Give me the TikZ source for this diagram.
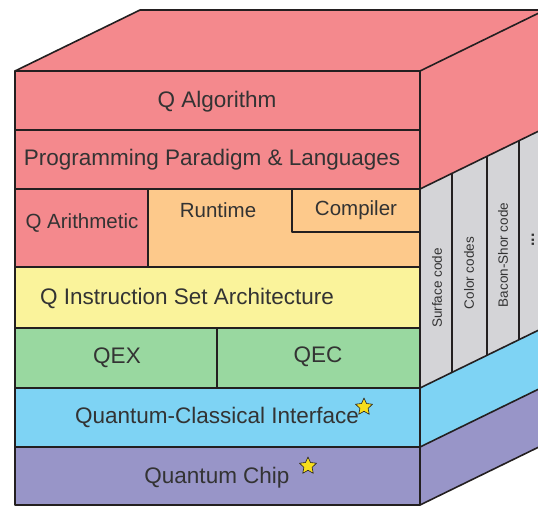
\documentclass[tikz,border=0pt]{standalone}
\usepackage{fontspec}
\setmainfont{Liberation Sans}
\usetikzlibrary{shapes.geometric}
\definecolor{qpink}{HTML}{F4898D}
\definecolor{qorange}{HTML}{FDC98B}
\definecolor{qyellow}{HTML}{FAF39B}
\definecolor{qgreen}{HTML}{99D8A0}
\definecolor{qblue}{HTML}{7ED3F4}
\definecolor{qpurple}{HTML}{9895C8}
\definecolor{qgray}{HTML}{D4D4D7}
\definecolor{qline}{HTML}{231F20}
\definecolor{qtext}{HTML}{333333}
\definecolor{qgold}{HTML}{F7DE1C}
\begin{document}
\begin{tikzpicture}
			[x=1pt,y=-1pt,line width=1.6pt,line join=round,
			lbl/.style={anchor=base,text=qtext,inner sep=0pt,font=\fontsize{22.5}{24}\selectfont},
			sublbl/.style={lbl,font=\fontsize{20.5}{22}\selectfont},
			code/.style={rotate=90,text=qtext,inner sep=0pt,font=\fontsize{13.5}{15}\selectfont},
			qstar/.style={star,star points=5,star point ratio=2.1,fill=qgold,draw=qline,line width=0.6pt,minimum size=18pt,inner sep=0pt}]
			\clip (0,0) rectangle (538,506);
			\fill[qpink] (15,71) -- (140,10) -- (545,10) -- (545,128) -- (420,189) -- (148,189) -- (148,267) -- (15,267) -- cycle;
			\fill[qgray] (420,189) -- (545,128) -- (545,327) -- (420,388) -- cycle;
			\fill[qblue] (420,388) -- (545,327) -- (545,386) -- (420,447) -- cycle;
			\fill[qpurple] (420,447) -- (545,386) -- (545,444) -- (420,505) -- cycle;
			\fill[qorange] (148,189) rectangle (420,267);
			\fill[qyellow] (15,267) rectangle (420,328);
			\fill[qgreen] (15,328) rectangle (420,388);
			\fill[qblue] (15,388) rectangle (420,447);
			\fill[qpurple] (15,447) rectangle (420,505);
			\draw[qline] (15,71) -- (140,10) -- (545,10);
			\draw[qline] (420,71) -- (545,10);
			\draw[qline] (15,71) rectangle (420,505);
			\draw[qline] (15,130) -- (420,130);
			\draw[qline] (15,189) -- (420,189) -- (545,128);
			\draw[qline] (15,267) -- (420,267);
			\draw[qline] (15,328) -- (420,328);
			\draw[qline] (15,388) -- (420,388) -- (545,327);
			\draw[qline] (15,447) -- (420,447) -- (545,386);
			\draw[qline] (420,505) -- (545,444);
			\draw[qline] (148,189) -- (148,267);
			\draw[qline] (292,189) -- (292,232) -- (420,232);
			\draw[qline] (217,328) -- (217,388);
			\draw[qline] (452,173.4) -- (452,372.4);
			\draw[qline] (487,156.3) -- (487,355.3);
			\draw[qline] (519,140.7) -- (519,339.7);
			\node[lbl] (alg) at (217,107) {Q Algorithm};
			\node[lbl] (ppl) at (212,165) {Programming Paradigm \& Languages};
			\node[sublbl] (arith) at (82,228) {Q Arithmetic};
			\node[sublbl] (runtime) at (218,217) {Runtime};
			\node[sublbl] (compiler) at (356,215) {Compiler};
			\node[lbl] (isa) at (187,304) {Q Instruction Set Architecture};
			\node[lbl] (qex) at (117,363) {QEX};
			\node[lbl] (qec) at (318,362) {QEC};
			\node[lbl] (qci) at (217,423) {Quantum-Classical Interface};
			\node[lbl] (chip) at (217,483) {Quantum Chip};
			\node[code] (surface) at (437,288) {Surface code};
			\node[code] (color) at (469,273) {Color codes};
			\node[code] (bacon) at (503,255) {Bacon-Shor code};
			\node[code,font=\fontsize{16}{18}\selectfont\bfseries] (more) at (533,240) {...};
			\node[qstar] (star1) at (364,407) {};
			\node[qstar] (star2) at (308,466) {};
		\end{tikzpicture}
\end{document}
